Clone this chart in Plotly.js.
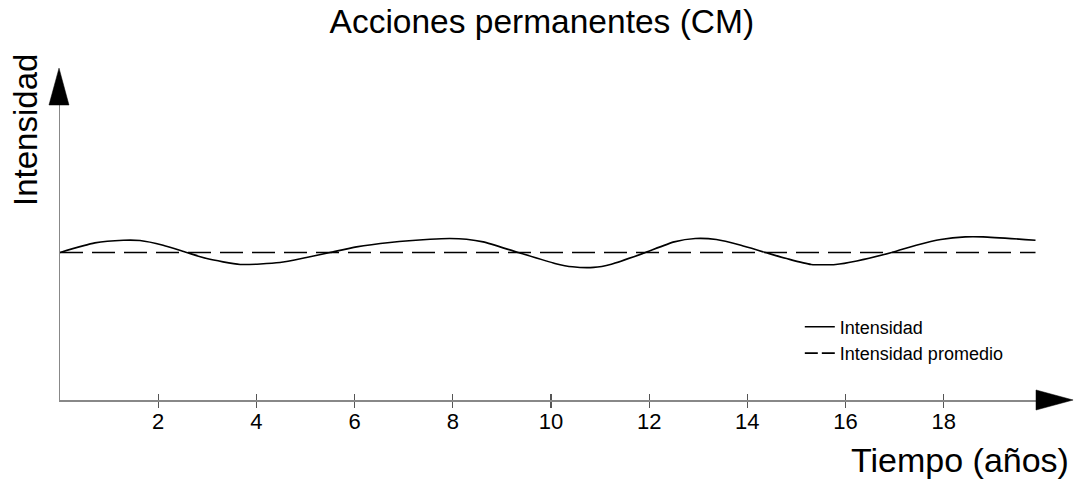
<!DOCTYPE html>
<html>
<head>
<meta charset="utf-8">
<script src="https://cdn.plot.ly/plotly-3.0.1.min.js"></script>
<style>html,body{margin:0;padding:0;background:#fff;}#chart{width:1075px;height:482px;}</style>
</head>
<body>
<div id="chart"></div>
<script>
// Data
const tiempo = [0, 0.71, 1.29, 1.63, 2.10, 2.58, 2.99, 3.67, 4.48, 5.02, 5.50, 6.04, 6.72, 7.54, 7.94, 8.28, 8.62, 9.33, 10.08, 10.44, 10.87, 11.23, 11.87, 12.51, 12.94, 13.37, 13.87, 14.37, 14.80, 15.30, 15.80, 16.23, 16.94, 17.44, 17.94, 18.44, 18.80, 19.87];
const intensidad = [10.0, 10.65, 10.83, 10.81, 10.49, 10.0, 9.59, 9.19, 9.32, 9.66, 10.0, 10.38, 10.68, 10.90, 10.95, 10.90, 10.72, 10.0, 9.26, 9.03, 8.99, 9.21, 9.93, 10.72, 10.95, 10.88, 10.49, 10.0, 9.59, 9.19, 9.19, 9.43, 10.0, 10.49, 10.88, 11.06, 11.06, 10.83];
const promedioX = [0, 19.87];
const promedioY = [10, 10];
const tickVals = [2, 4, 6, 8, 10, 12, 14, 16, 18];
const tickText = ["2", "4", "6", "8", "10", "12", "14", "16", "18"];

const FONT = "Liberation Sans, Arial, sans-serif";

const traces = [
  {x: tiempo, y: intensidad, name: "Intensidad", type: "scatter", mode: "lines",
   line: {color: "#000", width: 1.6, shape: "spline", smoothing: 0.6}},
  {x: promedioX, y: promedioY, name: "Intensidad promedio", type: "scatter", mode: "lines", showlegend: false,
   line: {color: "#000", width: 1.6, dash: "23px,9px"}},
  // legend-only entry so the legend sample shows two short dashes like the reference
  {x: [null], y: [null], name: "Intensidad promedio", type: "scatter", mode: "lines",
   line: {color: "#000", width: 1.6, dash: "13px,4px"}},
  {x: [0], y: [0], xaxis: "x2", yaxis: "y", mode: "lines", showlegend: false, hoverinfo: "skip",
   line: {color: "rgba(0,0,0,0)"}}
];

const layout = {
  width: 1075, height: 482,
  margin: {l: 60, r: 39, t: 105, b: 82},
  paper_bgcolor: "#fff", plot_bgcolor: "#fff",
  font: {family: FONT, color: "#000"},
  showlegend: true,
  title: {text: "Acciones permanentes (CM)", font: {size: 33.5, family: FONT, color: "#000"},
          x: 0.504, xref: "container", xanchor: "center", y: 0.955, yref: "container", yanchor: "middle"},
  xaxis: {range: [0, 19.88], showgrid: false, zeroline: false, showline: true,
          linecolor: "#888", linewidth: 1.5, ticks: "outside", ticklen: 6, tickwidth: 1.2, tickcolor: "#555",
          tickvals: tickVals, ticktext: tickText, tickfont: {size: 22, family: FONT, color: "#000"},
          ticklabelstandoff: -5},
  xaxis2: {overlaying: "x", matches: "x", anchor: "y", range: [0, 19.88], showgrid: false, zeroline: false,
           showline: false, ticks: "inside", ticklen: 6, tickwidth: 1.2, tickcolor: "#555",
           tickvals: tickVals, showticklabels: false},
  yaxis: {range: [0, 20], showgrid: false, zeroline: false, showline: true,
          linecolor: "#888", linewidth: 1.5, ticks: "", showticklabels: false},
  legend: {x: 0.758, y: 0.31, xanchor: "left", yanchor: "top", bgcolor: "rgba(0,0,0,0)",
           font: {size: 18, family: FONT, color: "#000"}, tracegroupgap: 0},
  shapes: [
    {type: "path", xref: "paper", yref: "paper", path: "M -0.0113,1 L 0.0092,1 L -0.001,1.125 Z",
     fillcolor: "#000", line: {color: "#000", width: 0.5}},
    {type: "path", xref: "paper", yref: "paper", path: "M 1,-0.034 L 1,0.034 L 1.038,0 Z",
     fillcolor: "#000", line: {color: "#000", width: 0.5}}
  ],
  annotations: [
    {text: "Tiempo (años)", xref: "paper", yref: "paper", x: 1.036, y: -0.205, xanchor: "right", yanchor: "middle",
     showarrow: false, font: {size: 34, family: FONT, color: "#000"}},
    {text: "Intensidad", xref: "paper", yref: "paper", x: -0.036, y: 0.915, xanchor: "center", yanchor: "middle",
     textangle: -90, showarrow: false, font: {size: 33, family: FONT, color: "#000"}}
  ]
};

Plotly.newPlot("chart", traces, layout, {displayModeBar: false, staticPlot: true});
</script>
</body>
</html>
